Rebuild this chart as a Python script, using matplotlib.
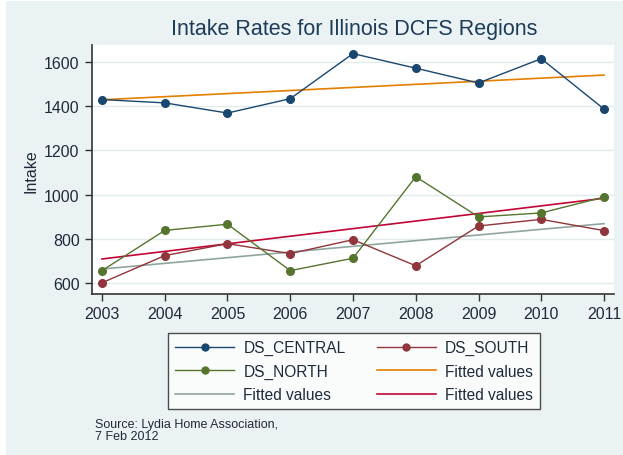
import numpy as np
import matplotlib
matplotlib.use("Agg")
import matplotlib.pyplot as plt
from matplotlib.patches import Rectangle
from matplotlib.lines import Line2D

years = [2003, 2004, 2005, 2006, 2007, 2008, 2009, 2010, 2011]
ds_central = [1430, 1415, 1369, 1434, 1638, 1572, 1505, 1615, 1387]
ds_south = [601, 724, 778, 733, 796, 678, 858, 888, 837]
ds_north = [656, 838, 866, 656, 712, 1081, 899, 917, 989]
yticks = [600, 800, 1000, 1200, 1400, 1600]

title = "Intake Rates for Illinois DCFS Regions"
ylabel = "Intake"
note = "Source: Lydia Home Association,\n7 Feb 2012"

c_navy = "#1a476f"
c_maroon = "#90353b"
c_green = "#55752f"
c_orange = "#e37e00"
c_teal = "#8fa59e"
c_cran = "#c10534"
panel_bg = "#eaf2f3"
grid_c = "#e2ecee"
text_c = "#1e2b3a"

plt.rcParams['font.family'] = ['Liberation Sans', 'DejaVu Sans']

W, H = 623, 456
fig = plt.figure(figsize=(W / 100, H / 100), dpi=100)
fig.patch.set_facecolor("white")
fig.patches.append(Rectangle((6 / W, 0), 1 - 6 / W, 1 - 2 / H, transform=fig.transFigure,
                             facecolor=panel_bg, edgecolor="none", zorder=-10))

ax = fig.add_axes([92 / W, 1 - 295 / H, (614 - 92) / W, (295 - 46) / H])
ax.set_facecolor("white")

x = np.array(years, dtype=float)

def fit(y):
    b, a = np.polyfit(x, np.array(y, dtype=float), 1)
    return a + b * x

ms = 5.5
lw = 1.0
ax.plot(years, ds_central, color=c_navy, lw=lw, marker="o", ms=ms, zorder=5)
ax.plot(years, ds_south, color=c_maroon, lw=lw, marker="o", ms=ms, zorder=5)
ax.plot(years, ds_north, color=c_green, lw=lw, marker="o", ms=ms, zorder=5)
ax.plot(years, fit(ds_central), color=c_orange, lw=1.2, zorder=4)
ax.plot(years, fit(ds_south), color=c_teal, lw=1.2, zorder=4)
ax.plot(years, fit(ds_north), color=c_cran, lw=1.2, zorder=4)

px_per_year = (604 - 101) / 8
ax.set_xlim(2003 - 10 / px_per_year, 2011 + 10 / px_per_year)
v_per_px = 1000 / 221
ax.set_ylim(600 - 11 * v_per_px, 600 + 238 * v_per_px)
ax.set_xticks(years)
ax.set_yticks(yticks)
ax.set_yticklabels([str(t) for t in yticks])
ax.grid(axis="y", color=grid_c, lw=1.0)
ax.set_axisbelow(True)
for s in ["top", "right"]:
    ax.spines[s].set_visible(False)
for s in ["left", "bottom"]:
    ax.spines[s].set_color("#333333")
    ax.spines[s].set_linewidth(1.2)
ax.tick_params(axis="both", direction="out", length=5, width=1, color="#333333",
               labelsize=11.5, labelcolor=text_c, pad=4)

fig.text(354 / W, 1 - 30 / H, title, ha="center", va="center", fontsize=15.5, color="#1e3c5a")
fig.text(31 / W, 1 - 171 / H, ylabel, ha="center", va="center", rotation=90, fontsize=11.5, color=text_c)

handles = [
    Line2D([], [], color=c_navy, lw=lw, marker="o", ms=5),
    Line2D([], [], color=c_maroon, lw=lw, marker="o", ms=5),
    Line2D([], [], color=c_green, lw=lw, marker="o", ms=5),
    Line2D([], [], color=c_orange, lw=1.2),
    Line2D([], [], color=c_teal, lw=1.2),
    Line2D([], [], color=c_cran, lw=1.2),
]
labels = ["DS_CENTRAL", "DS_SOUTH", "DS_NORTH", "Fitted values", "Fitted values", "Fitted values"]
# arrange row-major in 2 columns: matplotlib fills column-major, reorder
order = [0, 2, 4, 1, 3, 5]
leg = fig.legend([handles[i] for i in order], [labels[i] for i in order], ncol=2,
                 loc="upper left", bbox_to_anchor=(168 / W, 1 - 334 / H),
                 frameon=True, fancybox=False, fontsize=11.2, handlelength=3.8,
                 columnspacing=2.0, labelspacing=0.55, borderpad=0.45, handletextpad=0.6,
                 borderaxespad=0)
leg.get_frame().set_edgecolor("#222222")
leg.get_frame().set_linewidth(1.0)
for t in leg.get_texts():
    t.set_color(text_c)

fig.text(95 / W, 1 - 419 / H, note, ha="left", va="top", fontsize=9, color=text_c, linespacing=1.0)

fig.savefig("out.png", dpi=100, facecolor=fig.get_facecolor())
